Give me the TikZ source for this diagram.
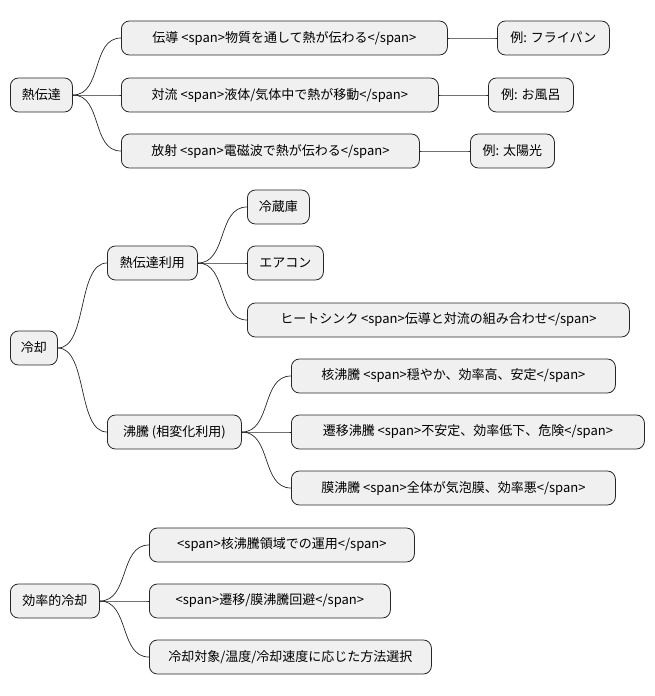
\documentclass[tikz,border=0pt]{standalone}
\usepackage{fontspec}
\setmainfont{Noto Sans CJK JP}
\begin{document}
\begin{tikzpicture}[x=1pt,y=-1pt,
  box/.style={draw=black!85,fill=black!6,rounded corners=8pt,line width=0.8pt,minimum height=34pt,inner xsep=10pt,anchor=west,font=\fontsize{13}{15}\selectfont},
  w/.style={minimum width=#1pt},
  ln/.style={line width=0.7pt,draw=black!85}]
\useasboundingbox (0,0) rectangle (655,696);
\node[box,w=62] (a) at (10,95) {熱伝達};
\node[box,w=326] (a1) at (121,38) {伝導 <span>物質を通して熱が伝わる</span>};
\node[box,w=112] (a1x) at (497,38) {例: フライパン};
\node[box,w=317] (a2) at (121,95) {対流 <span>液体/気体中で熱が移動</span>};
\node[box,w=85] (a2x) at (488,95) {例: お風呂};
\node[box,w=298] (a3) at (121,151) {放射 <span>電磁波で熱が伝わる</span>};
\node[box,w=84] (a3x) at (470,151) {例: 太陽光};
\node[box,w=47] (b) at (10,348) {冷却};
\node[box,w=90] (b1) at (107,263) {熱伝達利用};
\node[box,w=62] (b11) at (247,207) {冷蔵庫};
\node[box,w=76] (b12) at (247,263) {エアコン};
\node[box,w=382] (b13) at (247,320) {ヒートシンク <span>伝導と対流の組み合わせ</span>};
\node[box,w=134] (b2) at (107,432) {沸騰 (相変化利用)};
\node[box,w=324] (b21) at (291,376) {核沸騰 <span>穏やか、効率高、安定</span>};
\node[box,w=353] (b22) at (291,432) {遷移沸騰 <span>不安定、効率低下、危険</span>};
\node[box,w=324] (b23) at (291,488) {膜沸騰 <span>全体が気泡膜、効率悪</span>};
\node[box,w=89] (c) at (10,601) {効率的冷却};
\node[box,w=265] (c1) at (149,545) {<span>核沸騰領域での運用</span>};
\node[box,w=241] (c2) at (149,601) {<span>遷移/膜沸騰回避</span>};
\node[box,w=282] (c3) at (149,657) {冷却対象/温度/冷却速度に応じた方法選択};
\foreach \p/\c in {a/a1,a/a2,a/a3,a1/a1x,a2/a2x,a3/a3x,b/b1,b/b2,b1/b11,b1/b12,b1/b13,b2/b21,b2/b22,b2/b23,c/c1,c/c2,c/c3}
  \draw[ln] (\p.east) .. controls ([xshift=30]\p.east) and ([xshift=-30]\c.west) .. (\c.west);
\end{tikzpicture}
\end{document}
